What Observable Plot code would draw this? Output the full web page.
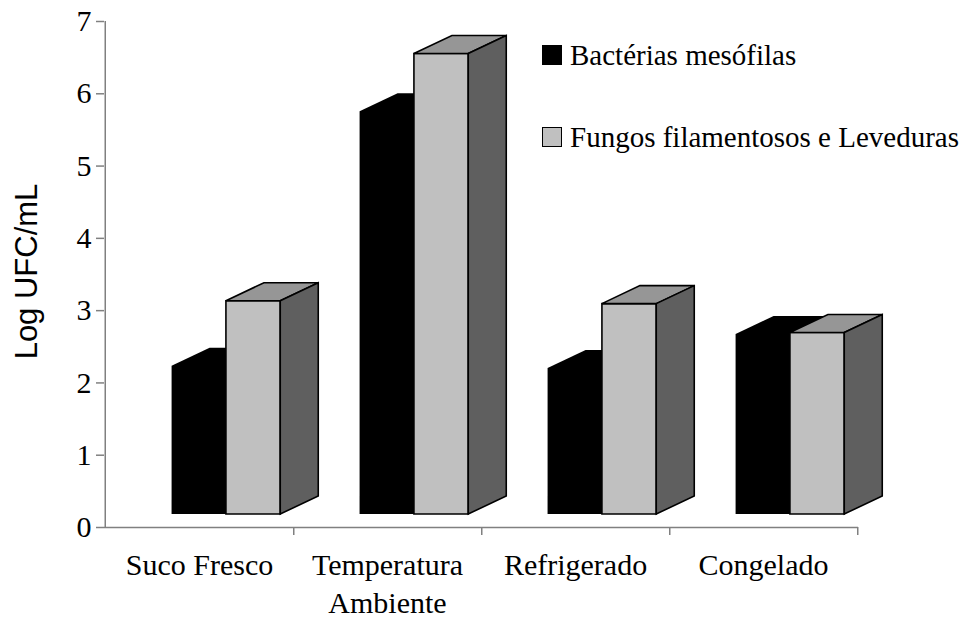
<!DOCTYPE html>
<html>
<head>
<meta charset="utf-8">
<script src="https://cdn.jsdelivr.net/npm/d3@7"></script>
<script src="https://cdn.jsdelivr.net/npm/@observablehq/plot@0.6"></script>
<style>
  body { margin: 0; background: #fff; }
  #wrap { position: relative; width: 966px; height: 621px; }
  #legend { position: absolute; left: 542px; top: 38px; font-family: "Liberation Serif", serif; font-size: 29px; color: #000; }
  .item { display: flex; align-items: center; height: 34px; }
  .item + .item { margin-top: 48px; }
  .sw { width: 20px; height: 20px; box-sizing: border-box; margin-right: 8px; border: 1.5px solid #000; }
</style>
</head>
<body>
<div id="wrap"><div id="legend"></div></div>
<script>
const categories = ["Suco Fresco", "Temperatura\nAmbiente", "Refrigerado", "Congelado"];
const seriesNames = ["Bactérias mesófilas", "Fungos filamentosos e Leveduras"];
const bacterias = [2.05, 5.57, 2.02, 2.49];
const fungos = [2.95, 6.37, 2.91, 2.51];
const yTicks = [0, 1, 2, 3, 4, 5, 6, 7];
const seriesColors = ["#000000", "#c0c0c0"];

const NS = "http://www.w3.org/2000/svg";
function poly(parent, pts, fill, stroke) {
  const p = document.createElementNS(NS, "polygon");
  p.setAttribute("points", pts.map(d => d.join(",")).join(" "));
  p.setAttribute("fill", fill);
  if (stroke) {
    p.setAttribute("stroke", stroke);
    p.setAttribute("stroke-width", "1.6");
    p.setAttribute("stroke-linejoin", "miter");
  }
  parent.appendChild(p);
}

function bars3d(index, scales) {
  const x = scales.x, y = scales.y;
  let bw = typeof x.bandwidth === "function" ? x.bandwidth() : x.bandwidth;
  if (!bw) bw = x(categories[1]) - x(categories[0]);
  const g = document.createElementNS(NS, "g");
  const barW = bw * 0.289, sx = bw * 0.1432, sy = 13, dX = 38, dY = 18;
  const yb = y(0) - sy;
  categories.forEach((c, i) => {
    const cx = x(c) + bw / 2;
    const bl = cx - barW + sx, br = cx + sx, bt = y(bacterias[i]) - sy;
    poly(g, [[bl, yb], [bl, bt], [bl + dX, bt - dY], [br + dX, bt - dY], [br + dX, yb - dY], [br, yb]], seriesColors[0]);
    const fl = br, fr = br + barW, ft = y(fungos[i]) - sy;
    poly(g, [[fl, yb], [fl, ft], [fr, ft], [fr, yb]], seriesColors[1], "#000");
    poly(g, [[fl, ft], [fl + dX, ft - dY], [fr + dX, ft - dY], [fr, ft]], "#969696", "#000");
    poly(g, [[fr, ft], [fr + dX, ft - dY], [fr + dX, yb - dY], [fr, yb]], "#5f5f5f", "#000");
  });
  return g;
}

const bandPx = (858 - 104) / categories.length;

const chart = Plot.plot({
  width: 966,
  height: 621,
  marginLeft: 104,
  marginRight: 108,
  marginTop: 21,
  marginBottom: 94,
  style: { fontFamily: "Liberation Serif, serif", background: "#fff", overflow: "visible" },
  x: { type: "band", domain: categories, padding: 0 },
  y: { domain: [0, 7] },
  marks: [
    bars3d,
    Plot.ruleY([0], { stroke: "#808080", strokeWidth: 1.5 }),
    Plot.ruleX(categories.slice(0, 1), { dx: -bandPx / 2, stroke: "#808080", strokeWidth: 1.5, y1: 0, y2: 7 }),
    Plot.axisY(yTicks, { tickSize: 8, tickPadding: 5, fontSize: 30, stroke: "#808080", color: "#000", label: null, strokeWidth: 1.5, tickFormat: d3.format("d") }),
    Plot.axisX(categories, { tickSize: 8, dx: bandPx / 2, text: null, stroke: "#808080", label: null, strokeWidth: 1.5 }),
    Plot.axisX(categories, { tickSize: 0, tickPadding: 20, fontSize: 30, lineHeight: 1.27, label: null, fill: "#000" }),
    Plot.text(["Log UFC/mL"], { frameAnchor: "left", textAnchor: "middle", rotate: -90, dx: -77, dy: -3, fontSize: 31, fontFamily: "Liberation Sans, Arial, sans-serif", fill: "#000" })
  ]
});
document.getElementById("wrap").prepend(chart);

const legend = document.getElementById("legend");
seriesNames.forEach((name, i) => {
  const item = document.createElement("div");
  item.className = "item";
  const sw = document.createElement("span");
  sw.className = "sw";
  sw.style.background = seriesColors[i];
  item.appendChild(sw);
  item.appendChild(document.createTextNode(name));
  legend.appendChild(item);
});
</script>
</body>
</html>
